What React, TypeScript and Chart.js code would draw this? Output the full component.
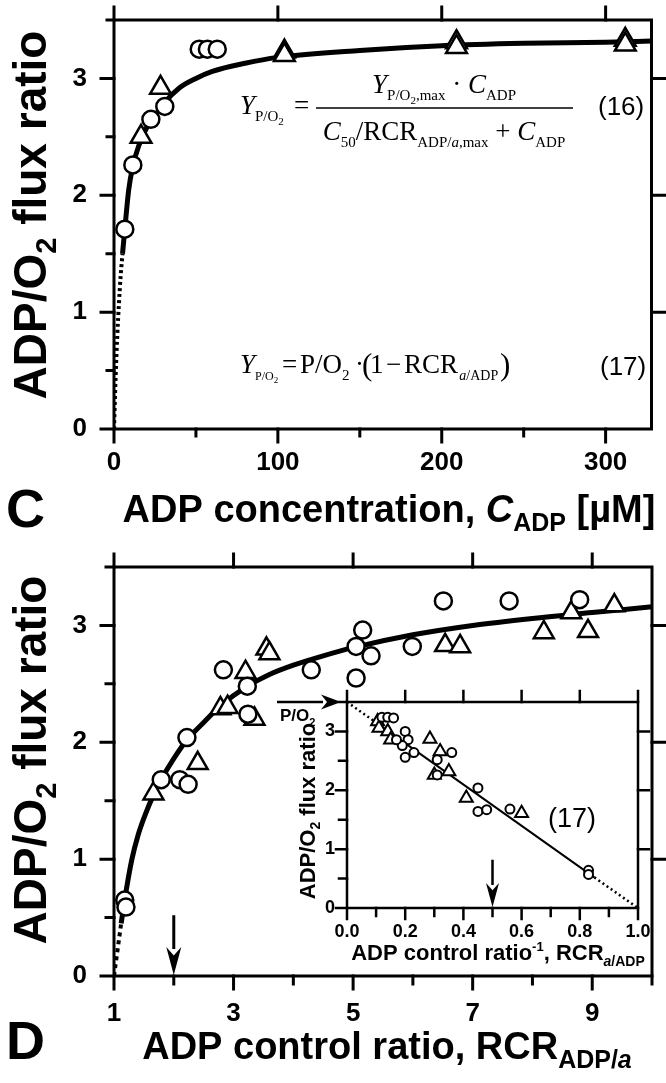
import React, { useEffect, useRef } from 'react';
import { Chart, registerables } from 'chart.js';
Chart.register(...registerables);

const SANS = "'Liberation Sans', Arial, Helvetica, sans-serif";
const SERIF = "'Liberation Serif', 'Times New Roman', serif";

// ---------------- Panel C data ----------------
const cCircleX = [6.6, 11.5, 22.5, 31, 52, 57, 63];
const cCircleY = [1.71, 2.26, 2.65, 2.76, 3.25, 3.25, 3.25];
const cTriangleX = [16.5, 28.4, 104, 104, 209, 209, 312, 312];
const cTriangleY = [2.5, 2.92, 3.23, 3.2, 3.31, 3.27, 3.33, 3.29];
const cFitX = [5.2, 6.6, 9, 11.5, 15, 20, 25, 30, 40, 50, 60, 80, 100, 150, 200, 250, 300, 328];
const cFitY = [1.5, 1.71, 2.05, 2.25, 2.42, 2.58, 2.68, 2.78, 2.92, 3.0, 3.06, 3.13, 3.18, 3.24, 3.28, 3.3, 3.31, 3.32];
const cExtrapX = [0, 1, 2, 3, 4, 5.2];
const cExtrapY = [0, 0.45, 0.8, 1.07, 1.3, 1.5];
const cXMajor = [0, 100, 200, 300];
const cXMinor = [50, 150, 250];
const yMajor = [0, 1, 2, 3];
const yMinor = [0.5, 1.5, 2.5, 3.5];

// ---------------- Panel D data ----------------
const dCircleX = [1.18, 1.2, 1.79, 2.1, 2.24, 2.22, 2.83, 3.23, 3.24, 4.3, 5.16, 5.05, 5.3, 5.05, 5.99, 6.51, 7.61, 8.79];
const dCircleY = [0.65, 0.59, 1.68, 1.68, 1.64, 2.04, 2.62, 2.48, 2.24, 2.62, 2.96, 2.82, 2.74, 2.55, 2.82, 3.21, 3.21, 3.22];
const dTriangleX = [1.66, 2.4, 2.78, 2.9, 3.2, 3.35, 3.55, 3.6, 6.54, 6.79, 8.19, 8.65, 8.93, 9.37];
const dTriangleY = [1.56, 1.82, 2.29, 2.3, 2.6, 2.2, 2.8, 2.76, 2.83, 2.82, 2.94, 3.11, 2.95, 3.17];
const dFitX = [1.12, 1.2, 1.3, 1.4, 1.5, 1.66, 1.8, 2.0, 2.22, 2.5, 2.8, 3.2, 3.6, 4, 4.5, 5, 6, 7, 8, 9, 10];
const dFitY = [0.45, 0.72, 1.0, 1.2, 1.35, 1.55, 1.69, 1.86, 2.02, 2.17, 2.32, 2.47, 2.58, 2.66, 2.74, 2.81, 2.92, 3.0, 3.06, 3.11, 3.16];
const dExtrapX = [1, 1.04, 1.08, 1.12];
const dExtrapY = [0, 0.15, 0.3, 0.45];
const dXMajor = [1, 3, 5, 7, 9];
const dXMinor = [2, 4, 6, 8, 10];
const dArrowX = 2;
const dArrowY = [0.52, 0];

// ---------------- Inset data ----------------
const iCircleX = [0.12, 0.14, 0.16, 0.2, 0.21, 0.19, 0.2, 0.23, 0.17, 0.31, 0.31, 0.36, 0.45, 0.45, 0.48, 0.56, 0.83, 0.83];
const iCircleY = [3.24, 3.24, 3.23, 3.0, 2.86, 2.76, 2.56, 2.64, 2.86, 2.52, 2.26, 2.64, 2.04, 1.64, 1.67, 1.68, 0.64, 0.57];
const iTriangleX = [0.105, 0.11, 0.14, 0.15, 0.285, 0.32, 0.3, 0.35, 0.41, 0.6];
const iTriangleY = [3.17, 3.06, 3.0, 2.86, 2.87, 2.66, 2.26, 2.32, 1.87, 1.61];
const iLineX = [0.1, 0.85];
const iLineY = [3.15, 0.52];
const iDotLeftX = [0, 0.1];
const iDotLeftY = [3.5, 3.15];
const iDotRightX = [0.85, 1.0];
const iDotRightY = [0.52, 0];
const iXMajor = [0, 0.2, 0.4, 0.6, 0.8, 1.0];
const iXAll = [0, 0.1, 0.2, 0.3, 0.4, 0.5, 0.6, 0.7, 0.8, 0.9, 1.0];
const iArrowX = 0.5;
const iArrowY = [0.82, 0];
const pO2Level = 3.5;

// ---------------- helpers ----------------
const pts = (xs: number[], ys: number[]) => xs.map((x, i) => ({ x, y: ys[i] }));
const ser = (px: number, it = false) => `${it ? 'italic ' : ''}${px}px ${SERIF}`;
const sans = (px: number, bold = true, it = false) => `${it ? 'italic ' : ''}${bold ? 'bold ' : ''}${px}px ${SANS}`;

type Seg = { t: string; f: string; dy?: number };
function segsWidth(ctx: CanvasRenderingContext2D, segs: Seg[]) {
  let w = 0;
  for (const s of segs) { ctx.font = s.f; w += ctx.measureText(s.t).width; }
  return w;
}
function drawSegs(ctx: CanvasRenderingContext2D, segs: Seg[], x: number, y: number, align: 'left' | 'center' = 'left') {
  let cx = align === 'center' ? x - segsWidth(ctx, segs) / 2 : x;
  ctx.textAlign = 'left';
  ctx.textBaseline = 'alphabetic';
  ctx.fillStyle = '#000';
  for (const s of segs) {
    ctx.font = s.f;
    ctx.fillText(s.t, cx, y + (s.dy || 0));
    cx += ctx.measureText(s.t).width;
  }
  return cx;
}
function drawRotated(ctx: CanvasRenderingContext2D, segs: Seg[], cx: number, cy: number, baseOff: number) {
  ctx.save();
  ctx.translate(cx, cy);
  ctx.rotate(-Math.PI / 2);
  drawSegs(ctx, segs, 0, baseOff, 'center');
  ctx.restore();
}
function arrow(ctx: CanvasRenderingContext2D, x1: number, y1: number, x2: number, y2: number, lw: number, hl: number, hw: number) {
  const ang = Math.atan2(y2 - y1, x2 - x1);
  const bx = x2 - Math.cos(ang) * hl;
  const by = y2 - Math.sin(ang) * hl;
  ctx.save();
  ctx.strokeStyle = '#000';
  ctx.fillStyle = '#000';
  ctx.lineWidth = lw;
  ctx.beginPath();
  ctx.moveTo(x1, y1);
  ctx.lineTo(bx + Math.cos(ang) * 2, by + Math.sin(ang) * 2);
  ctx.stroke();
  const nx = -Math.sin(ang), ny = Math.cos(ang);
  ctx.beginPath();
  ctx.moveTo(x2, y2);
  ctx.lineTo(bx + nx * hw / 2, by + ny * hw / 2);
  ctx.lineTo(bx + Math.cos(ang) * hl * 0.3, by + Math.sin(ang) * hl * 0.3);
  ctx.lineTo(bx - nx * hw / 2, by - ny * hw / 2);
  ctx.closePath();
  ctx.fill();
  ctx.restore();
}

type Side = { major: number[]; minor: number[] };
type FrameSpec = { lw: number; maj: number; min: number; left: Side; bottom: Side; top: Side; right: Side };
function framePlugin(spec: FrameSpec) {
  return {
    id: 'frameTicks',
    afterDatasetsDraw(chart: any) {
      const { ctx, chartArea: a, scales } = chart;
      const xs = scales.x, ys = scales.y;
      ctx.save();
      ctx.strokeStyle = '#000';
      ctx.lineWidth = spec.lw;
      ctx.lineJoin = 'miter';
      ctx.beginPath();
      ctx.rect(a.left, a.top, a.right - a.left, a.bottom - a.top);
      ctx.stroke();
      ctx.lineCap = 'square';
      ctx.beginPath();
      const seg = (x1: number, y1: number, x2: number, y2: number) => { ctx.moveTo(x1, y1); ctx.lineTo(x2, y2); };
      spec.left.major.forEach((v) => { const y = ys.getPixelForValue(v); seg(a.left, y, a.left - spec.maj, y); });
      spec.left.minor.forEach((v) => { const y = ys.getPixelForValue(v); seg(a.left, y, a.left - spec.min, y); });
      spec.right.major.forEach((v) => { const y = ys.getPixelForValue(v); seg(a.right, y, a.right + spec.maj, y); });
      spec.right.minor.forEach((v) => { const y = ys.getPixelForValue(v); seg(a.right, y, a.right + spec.min, y); });
      spec.bottom.major.forEach((v) => { const x = xs.getPixelForValue(v); seg(x, a.bottom, x, a.bottom + spec.maj); });
      spec.bottom.minor.forEach((v) => { const x = xs.getPixelForValue(v); seg(x, a.bottom, x, a.bottom + spec.min); });
      spec.top.major.forEach((v) => { const x = xs.getPixelForValue(v); seg(x, a.top, x, a.top - spec.maj); });
      spec.top.minor.forEach((v) => { const x = xs.getPixelForValue(v); seg(x, a.top, x, a.top - spec.min); });
      ctx.stroke();
      ctx.restore();
    },
  };
}

type Area = { l: number; t: number; r: number; b: number };
function makeConfig(p: {
  W: number; H: number; area: Area;
  x: { min: number; max: number; step: number; label: (v: number) => string; pad: number };
  y: { min: number; max: number; step: number; label: (v: number) => string; pad: number };
  tickSize: number; datasets: any[]; plugins: any[];
}): any {
  const font = { family: SANS, size: p.tickSize, weight: 'bold' };
  return {
    type: 'scatter',
    data: { datasets: p.datasets },
    options: {
      animation: false,
      responsive: false,
      devicePixelRatio: 1,
      events: [],
      layout: { padding: { left: 0, top: p.area.t, right: p.W - p.area.r, bottom: 0 } },
      plugins: { legend: { display: false }, tooltip: { enabled: false } },
      scales: {
        x: {
          type: 'linear', min: p.x.min, max: p.x.max,
          afterFit: (s: any) => { s.height = p.H - p.area.b; s.paddingLeft = 0; s.paddingRight = 0; },
          grid: { display: false, drawTicks: false },
          border: { display: false },
          ticks: {
            stepSize: p.x.step, autoSkip: false, maxRotation: 0, minRotation: 0, includeBounds: false,
            padding: p.x.pad, color: '#000', font, callback: (v: any) => p.x.label(Number(v)),
          },
        },
        y: {
          type: 'linear', min: p.y.min, max: p.y.max,
          afterFit: (s: any) => { s.width = p.area.l; s.paddingTop = 0; s.paddingBottom = 0; },
          grid: { display: false, drawTicks: false },
          border: { display: false },
          ticks: {
            stepSize: p.y.step, autoSkip: false, includeBounds: false,
            padding: p.y.pad, color: '#000', font, callback: (v: any) => p.y.label(Number(v)),
          },
        },
      },
    },
    plugins: p.plugins,
  };
}

const markerSet = (data: any[], style: string, r: number, bw: number) => ({
  data, showLine: false, pointStyle: style, pointRadius: r, pointHoverRadius: r,
  pointBorderWidth: bw, pointBorderColor: '#000', pointBackgroundColor: '#fff',
});
const lineSet = (data: any[], bw: number, dash: number[] = []) => ({
  data, showLine: true, pointRadius: 0, borderColor: '#000', borderWidth: bw, borderDash: dash,
  cubicInterpolationMode: 'monotone', fill: false,
});
const intLabel = (v: number) => (Math.abs(v - Math.round(v)) < 1e-6 && yMajor.includes(Math.round(v)) ? String(Math.round(v)) : '');
const yTitle = (big: number, sub: number, dy: number): Seg[] => [
  { t: 'ADP/O', f: sans(big) }, { t: '2', f: sans(sub), dy }, { t: ' flux ratio', f: sans(big) },
];

export default function App() {
  const cRef = useRef<HTMLCanvasElement>(null);
  const dRef = useRef<HTMLCanvasElement>(null);
  const iRef = useRef<HTMLCanvasElement>(null);

  useEffect(() => {
    const charts: Chart[] = [];

    // ---------- Panel C ----------
    const cAnnot = {
      id: 'cAnnot',
      afterDraw(chart: any) {
        const ctx = chart.ctx as CanvasRenderingContext2D;
        ctx.save();
        drawRotated(ctx, yTitle(46, 29, 10), 29, 215, 17);
        drawSegs(ctx, [
          { t: 'ADP concentration, ', f: sans(38) },
          { t: 'C', f: sans(38, true, true) },
          { t: 'ADP', f: sans(25), dy: 9 },
          { t: ' [µM]', f: sans(38) },
        ], 389, 522, 'center');
        ctx.font = sans(54);
        ctx.fillText('C', 6, 527);
        // Equation 16
        drawSegs(ctx, [{ t: 'Y', f: ser(27, true) }, { t: 'P/O', f: ser(15), dy: 7 }, { t: '2', f: ser(11), dy: 11 }], 240, 114);
        drawSegs(ctx, [{ t: '=', f: ser(27) }], 294, 114);
        ctx.lineWidth = 1.3;
        ctx.strokeStyle = '#000';
        ctx.beginPath(); ctx.moveTo(316, 108); ctx.lineTo(573, 108); ctx.stroke();
        drawSegs(ctx, [
          { t: 'Y', f: ser(27, true) }, { t: 'P/O', f: ser(15), dy: 7 }, { t: '2', f: ser(11), dy: 11 },
          { t: ',max', f: ser(15), dy: 7 }, { t: ' · ', f: ser(27) }, { t: 'C', f: ser(27, true) }, { t: 'ADP', f: ser(15), dy: 7 },
        ], 444, 93, 'center');
        drawSegs(ctx, [
          { t: 'C', f: ser(27, true) }, { t: '50', f: ser(15), dy: 7 }, { t: '/RCR', f: ser(27) },
          { t: 'ADP/', f: ser(15), dy: 7 }, { t: 'a', f: ser(15, true), dy: 7 }, { t: ',max', f: ser(15), dy: 7 },
          { t: ' + ', f: ser(27) }, { t: 'C', f: ser(27, true) }, { t: 'ADP', f: ser(15), dy: 7 },
        ], 444, 140, 'center');
        ctx.font = sans(26, false);
        ctx.textBaseline = 'middle';
        ctx.fillText('(16)', 598, 108);
        ctx.fillText('(17)', 600, 368);
        ctx.textBaseline = 'alphabetic';
        // Equation 17
        drawSegs(ctx, [{ t: 'Y', f: ser(27, true) }, { t: 'P/O', f: ser(12), dy: 7 }, { t: '2', f: ser(9), dy: 10 }], 240, 373);
        drawSegs(ctx, [{ t: '=', f: ser(27) }], 282, 373);
        drawSegs(ctx, [{ t: 'P/O', f: ser(27) }, { t: '2', f: ser(15), dy: 7 }], 300, 373);
        drawSegs(ctx, [{ t: '·', f: ser(27) }], 355, 373);
        drawSegs(ctx, [{ t: '(', f: ser(31) }], 362, 375);
        drawSegs(ctx, [{ t: '1', f: ser(27) }], 370, 373);
        drawSegs(ctx, [{ t: '−', f: ser(27) }], 386, 373);
        drawSegs(ctx, [{ t: 'RCR', f: ser(27) }, { t: ' ', f: ser(5) }, { t: 'a', f: ser(14, true), dy: 7 }, { t: '/ADP', f: ser(14), dy: 7 }], 404, 373);
        drawSegs(ctx, [{ t: ')', f: ser(31) }], 500, 375);
        ctx.restore();
      },
    };
    charts.push(new Chart(cRef.current as HTMLCanvasElement, makeConfig({
      W: 666, H: 540, area: { l: 114, t: 20, r: 664, b: 429 },
      x: { min: 0, max: 328, step: 50, label: (v) => (cXMajor.includes(Math.round(v)) ? String(Math.round(v)) : ''), pad: 18 },
      y: { min: 0, max: 3.5, step: 0.5, label: intLabel, pad: 27 },
      tickSize: 26,
      datasets: [
        markerSet(pts(cCircleX, cCircleY), 'circle', 8.5, 2.5),
        markerSet(pts(cTriangleX, cTriangleY), 'triangle', 12, 2.5),
        lineSet(pts(cFitX, cFitY), 5),
        lineSet(pts(cExtrapX, cExtrapY), 4, [3, 3]),
      ],
      plugins: [
        framePlugin({ lw: 3, maj: 13, min: 7,
          left: { major: yMajor, minor: yMinor }, right: { major: [1, 2, 3], minor: [] },
          bottom: { major: cXMajor, minor: cXMinor }, top: { major: cXMajor, minor: [] } }),
        cAnnot,
      ],
    })));

    // ---------- Panel D ----------
    const dAnnot = {
      id: 'dAnnot',
      afterDraw(chart: any) {
        const ctx = chart.ctx as CanvasRenderingContext2D;
        const xs = chart.scales.x, ys = chart.scales.y;
        ctx.save();
        drawRotated(ctx, yTitle(46, 29, 10), 29, 220, 17);
        drawSegs(ctx, [
          { t: 'ADP control ratio, RCR', f: sans(38) },
          { t: 'ADP/', f: sans(25), dy: 9 },
          { t: 'a', f: sans(25, true, true), dy: 9 },
        ], 387, 519, 'center');
        ctx.font = sans(54);
        ctx.fillText('D', 6, 519);
        const ax = xs.getPixelForValue(dArrowX);
        arrow(ctx, ax, ys.getPixelForValue(dArrowY[0]), ax, ys.getPixelForValue(dArrowY[1]) - 1, 3, 28, 15);
        ctx.restore();
      },
    };
    charts.push(new Chart(dRef.current as HTMLCanvasElement, makeConfig({
      W: 666, H: 543, area: { l: 114, t: 27, r: 660, b: 436 },
      x: { min: 1, max: 10, step: 1, label: (v) => (dXMajor.includes(Math.round(v)) ? String(Math.round(v)) : ''), pad: 22 },
      y: { min: 0, max: 3.5, step: 0.5, label: intLabel, pad: 27 },
      tickSize: 26,
      datasets: [
        markerSet(pts(dCircleX, dCircleY), 'circle', 8.5, 2.5),
        markerSet(pts(dTriangleX, dTriangleY), 'triangle', 11.5, 2.5),
        lineSet(pts(dFitX, dFitY), 5),
        lineSet(pts(dExtrapX, dExtrapY), 4, [4, 4]),
      ],
      plugins: [
        framePlugin({ lw: 3, maj: 13, min: 8,
          left: { major: yMajor, minor: yMinor }, right: { major: [1, 2, 3], minor: [] },
          bottom: { major: dXMajor, minor: dXMinor }, top: { major: dXMajor, minor: [] } }),
        dAnnot,
      ],
    })));

    // ---------- Inset ----------
    const iAnnot = {
      id: 'iAnnot',
      afterDraw(chart: any) {
        const ctx = chart.ctx as CanvasRenderingContext2D;
        const xs = chart.scales.x, ys = chart.scales.y, a = chart.chartArea;
        ctx.save();
        drawRotated(ctx, yTitle(22, 14, 5), 47, 131, 8);
        drawSegs(ctx, [
          { t: 'ADP control ratio', f: sans(22) },
          { t: '-1', f: sans(13), dy: -9 },
          { t: ', RCR', f: sans(22) },
          { t: 'a', f: sans(14, true, true), dy: 6 },
          { t: '/ADP', f: sans(14), dy: 6 },
        ], 238, 280, 'center');
        ctx.font = sans(27, false);
        ctx.textBaseline = 'middle';
        ctx.fillText('(17)', 288, 140);
        ctx.textBaseline = 'alphabetic';
        const ax = xs.getPixelForValue(iArrowX);
        arrow(ctx, ax, ys.getPixelForValue(iArrowY[0]), ax, ys.getPixelForValue(iArrowY[1]) - 1, 2.5, 24, 13);
        const py = ys.getPixelForValue(pO2Level);
        arrow(ctx, a.left - 70, py, a.left - 6, py, 2.5, 20, 15);
        drawSegs(ctx, [{ t: 'P/O', f: sans(17) }, { t: '2', f: sans(11), dy: 5 }], a.left - 67, py + 19);
        ctx.restore();
      },
    };
    charts.push(new Chart(iRef.current as HTMLCanvasElement, makeConfig({
      W: 406, H: 290, area: { l: 87, t: 22, r: 378, b: 228 },
      x: {
        min: 0, max: 1, step: 0.1,
        label: (v) => { const k = Math.round(v * 10); return k % 2 === 0 ? (k / 10).toFixed(1) : ''; }, pad: 13,
      },
      y: { min: 0, max: 3.5, step: 0.5, label: intLabel, pad: 12 },
      tickSize: 18,
      datasets: [
        markerSet(pts(iCircleX, iCircleY), 'circle', 4.5, 2),
        markerSet(pts(iTriangleX, iTriangleY), 'triangle', 7.5, 2),
        lineSet(pts(iLineX, iLineY), 2),
        lineSet(pts(iDotLeftX, iDotLeftY), 2.5, [2, 3]),
        lineSet(pts(iDotRightX, iDotRightY), 2.5, [2, 3]),
      ],
      plugins: [
        framePlugin({ lw: 2.5, maj: 11, min: 8,
          left: { major: yMajor, minor: yMinor }, right: { major: [1, 2, 3], minor: [] },
          bottom: { major: iXMajor, minor: iXAll.filter((v) => !iXMajor.includes(v)) },
          top: { major: iXMajor, minor: [] } }),
        iAnnot,
      ],
    })));

    return () => { charts.forEach((c) => c.destroy()); };
  }, []);

  return (
    <div style={{ position: 'absolute', left: 0, top: 0, width: 666, height: 1083, background: '#fff', overflow: 'hidden' }}>
      <canvas ref={cRef} width={666} height={540} style={{ position: 'absolute', left: 0, top: 0 }} />
      <canvas ref={dRef} width={666} height={543} style={{ position: 'absolute', left: 0, top: 540 }} />
      <canvas ref={iRef} width={406} height={290} style={{ position: 'absolute', left: 260, top: 680 }} />
    </div>
  );
}
